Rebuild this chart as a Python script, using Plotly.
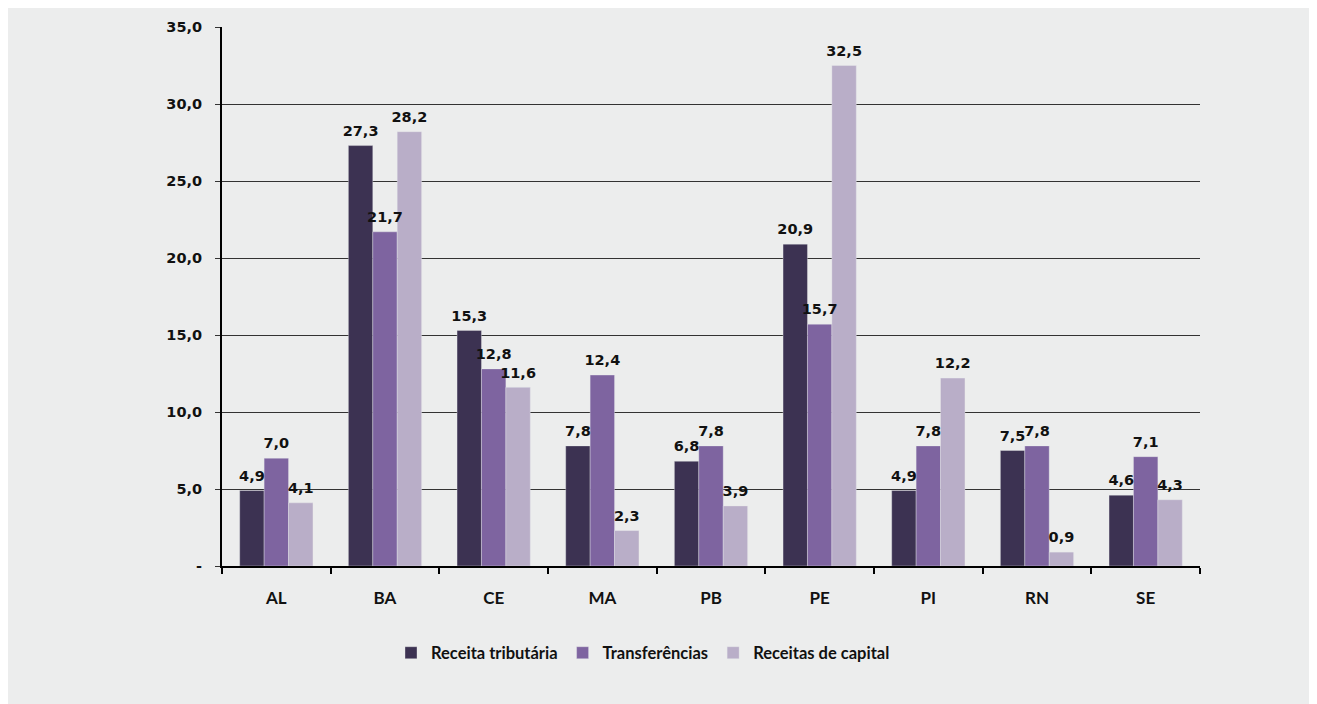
import plotly.graph_objects as go

categories = ["AL", "BA", "CE", "MA", "PB", "PE", "PI", "RN", "SE"]
receita_tributaria = [4.9, 27.3, 15.3, 7.8, 6.8, 20.9, 4.9, 7.5, 4.6]
transferencias = [7.0, 21.7, 12.8, 12.4, 7.8, 15.7, 7.8, 7.8, 7.1]
receitas_capital = [4.1, 28.2, 11.6, 2.3, 3.9, 32.5, 12.2, 0.9, 4.3]
series_names = ["Receita tributária", "Transferências", "Receitas de capital"]
series_colors = ["#3C3252", "#7E64A0", "#B9AEC8"]
y_ticks = [0, 5, 10, 15, 20, 25, 30, 35]
y_tick_labels = ["-", "5,0", "10,0", "15,0", "20,0", "25,0", "30,0", "35,0"]

TXT_FONT = "Lato"
NUM_FONT = "DejaVu Sans"
LABEL_LIFT = 0.25  # extra gap (data units) between bar top and its value label

def fmt(v):
    return f"{v:.1f}".replace(".", ",")

series = [receita_tributaria, transferencias, receitas_capital]
fig = go.Figure()
# bars
for i, (name, vals, col) in enumerate(zip(series_names, series, series_colors)):
    fig.add_trace(go.Bar(
        x=categories, y=vals, name=name, offsetgroup=str(i),
        marker=dict(color=col, line=dict(color="rgba(236,237,237,0.6)", width=0.6)),
        cliponaxis=False,
    ))
# value labels, drawn on top of all bars (same offset groups, transparent bars)
for i, vals in enumerate(series):
    fig.add_trace(go.Bar(
        x=categories, y=vals, base=LABEL_LIFT, offsetgroup=str(i),
        showlegend=False, hoverinfo="skip",
        marker=dict(color="rgba(0,0,0,0)", line=dict(width=0)),
        text=[fmt(v) for v in vals], textposition="outside",
        constraintext="none",
        textfont=dict(family=NUM_FONT, size=14.5, color="#111111", weight="bold"),
        cliponaxis=False,
    ))

# The page body has an 8px margin, so the figure is offset by 8px.
W, H = 1309, 696
L, T = 214, 19
R = W - 1192
B = H - 558
pw = W - L - R
ph = H - T - B

fig.add_shape(type="rect", xref="paper", yref="paper",
              x0=-L / pw, x1=(W - L + 10) / pw,
              y0=-(B + 10) / ph, y1=(ph + T) / ph,
              fillcolor="#ECEDED", line=dict(width=0), layer="below")

fig.update_layout(
    width=W, height=H,
    margin=dict(l=L, r=R, t=T, b=B),
    paper_bgcolor="white",
    plot_bgcolor="rgba(0,0,0,0)",
    barmode="group", bargap=0.326, bargroupgap=0,
    font=dict(family=TXT_FONT, size=16, color="#111111"),
    showlegend=True,
    legend=dict(orientation="h", x=(635 - L) / pw, xanchor="center",
                y=-(645 - (T + ph)) / ph, yanchor="middle",
                font=dict(family=TXT_FONT, size=16.5, color="#111111", weight="bold"),
                itemwidth=30, tracegroupgap=0, bgcolor="rgba(0,0,0,0)"),
)
fig.update_xaxes(
    showline=True, linecolor="black", linewidth=2,
    ticks="outside", tickson="boundaries", ticklen=6, tickcolor="black", tickwidth=1.5,
    tickfont=dict(family=TXT_FONT, size=17, color="#111111", weight="bold"),
    showgrid=False, ticklabelstandoff=16,
)
fig.update_yaxes(
    range=[0, 35], tickvals=y_ticks, ticktext=y_tick_labels,
    showline=True, linecolor="black", linewidth=2,
    ticks="outside", ticklen=5, tickcolor="#333333", tickwidth=1.3,
    showgrid=True, gridcolor="#333333", gridwidth=1.3,
    zeroline=False,
    tickfont=dict(family=NUM_FONT, size=14.5, color="#111111", weight="bold"),
    ticklabelstandoff=10,
)

fig.write_html("out.html")
